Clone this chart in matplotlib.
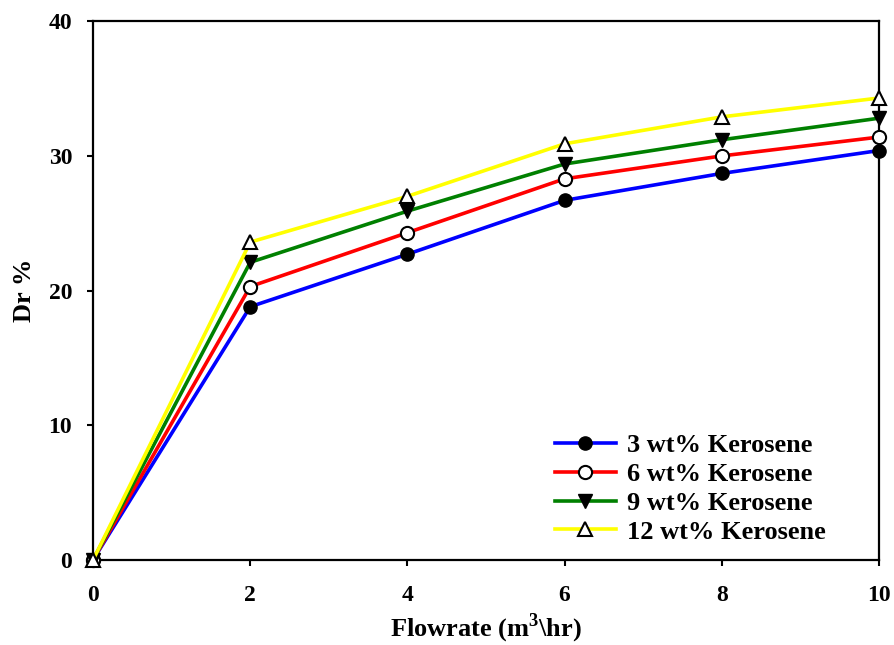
import matplotlib
matplotlib.use("Agg")
from matplotlib import pyplot as plt

plt.rcParams['font.family'] = ['Liberation Serif', 'DejaVu Serif']
plt.rcParams['font.weight'] = 'bold'
plt.rcParams['mathtext.fontset'] = 'custom'
plt.rcParams['mathtext.bf'] = 'Liberation Serif:bold'

flowrate = [0, 2, 4, 6, 8, 10]
dr_3 = [0, 18.8, 22.7, 26.7, 28.7, 30.4]
dr_6 = [0, 20.3, 24.3, 28.3, 30.0, 31.4]
dr_9 = [0, 22.1, 25.9, 29.4, 31.2, 32.8]
dr_12 = [0, 23.6, 27.0, 30.9, 32.9, 34.3]
labels = ['3 wt% Kerosene', '6 wt% Kerosene', '9 wt% Kerosene', '12 wt% Kerosene']

fig = plt.figure(figsize=(8.95, 6.45), dpi=100)
ax = fig.add_axes([0.104, 0.132, 0.878, 0.835])

ms = 9.5
lw = 2.6
ax.plot(flowrate, dr_3, color='blue', lw=lw, marker='o', ms=ms,
        mfc='black', mec='black', label=labels[0], clip_on=False, zorder=3)
ax.plot(flowrate, dr_6, color='red', lw=lw, marker='o', ms=ms,
        mfc='white', mec='black', mew=1.5, label=labels[1], clip_on=False, zorder=4)
ax.plot(flowrate, dr_9, color='green', lw=lw, marker='v', ms=ms + 0.5,
        mfc='black', mec='black', label=labels[2], clip_on=False, zorder=5)
ax.plot(flowrate, dr_12, color='yellow', lw=lw, marker='^', ms=ms + 0.5,
        mfc='white', mec='black', mew=1.5, label=labels[3], clip_on=False, zorder=6)

ax.set_xlim(0, 10)
ax.set_ylim(0, 40)
ax.set_xticks([0, 2, 4, 6, 8, 10])
ax.set_yticks([0, 10, 20, 30, 40])
ax.tick_params(direction='out', length=4, width=1.5, labelsize=17)
ax.tick_params(axis='x', pad=14)
ax.tick_params(axis='y', pad=11)
for s in ax.spines.values():
    s.set_linewidth(1.6)

ax.set_xlabel(r'Flowrate (m$^{\mathbf{3}}$\hr)', fontsize=19, fontweight='bold', labelpad=4)
ax.set_ylabel('Dr %', fontsize=19, fontweight='bold', labelpad=9)

ax.legend(loc='lower right', frameon=False, fontsize=19, handlelength=2.3,
          handletextpad=0.45, borderpad=0, borderaxespad=0, labelspacing=0.2,
          bbox_to_anchor=(0.933, 0.03))

plt.savefig('out.png', dpi=100)
